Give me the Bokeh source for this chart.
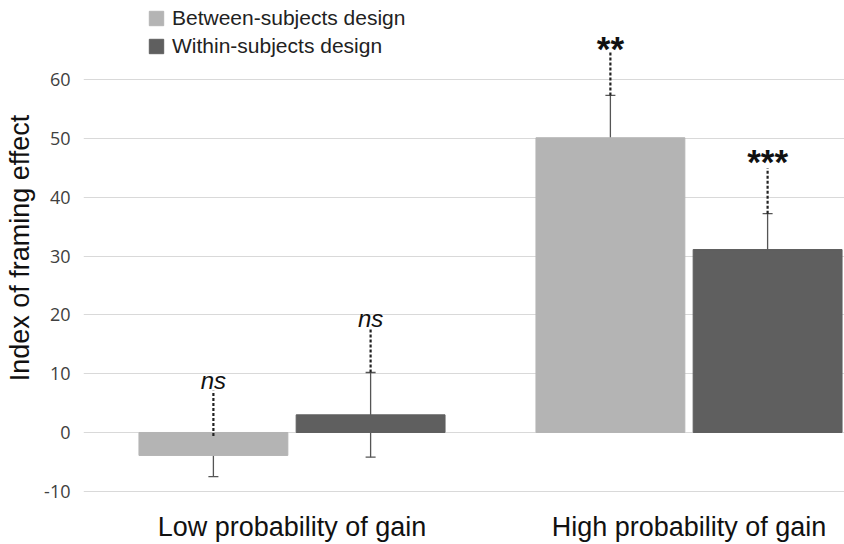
from bokeh.plotting import figure
from bokeh.models import (ColumnDataSource, FixedTicker, Legend, LegendItem,
                          Whisker, TeeHead, Range1d)
from bokeh.core.properties import value
from bokeh.embed import file_html
from bokeh.resources import INLINE

# ---- data ----
categories = ["Low probability of gain", "High probability of gain"]
series = ["Between-subjects design", "Within-subjects design"]
between = [-3.9, 50.1]
within = [3.0, 31.1]
between_lower = [-7.5, 42.8]
between_upper = [-0.6, 57.3]
within_lower = [-4.2, 24.6]
within_upper = [10.2, 37.2]
between_sig_top = [7.1, 64.6]
within_sig_top = [17.7, 44.9]
between_sig = ["ns", "**"]
within_sig = ["ns", "***"]
y_ticks = [-10, 0, 10, 20, 30, 40, 50, 60]

# ---- style ----
LIGHT = "#b4b4b4"
DARK = "#5f5f5f"
OFFSET = 0.198
BAR_W = 0.375

pos = list(range(len(categories)))
xb = [p_ - OFFSET for p_ in pos]
xw = [p_ + OFFSET for p_ in pos]

p = figure(width=844, height=544, output_backend="svg", toolbar_location=None,
           x_range=Range1d(-0.5252, 1.3917), y_range=Range1d(-10.71, 73.43),
           min_border_left=83, min_border_right=0, min_border_top=0,
           min_border_bottom=49)
p.outline_line_color = None
p.background_fill_color = "white"

src_b = ColumnDataSource(dict(x=xb, top=between, lo=between_lower, hi=between_upper,
                              st=between_sig_top, sig=between_sig))
src_w = ColumnDataSource(dict(x=xw, top=within, lo=within_lower, hi=within_upper,
                              st=within_sig_top, sig=within_sig))

rb = p.vbar(x="x", top="top", bottom=0, width=BAR_W, source=src_b,
            fill_color=LIGHT, line_color=LIGHT)
rw = p.vbar(x="x", top="top", bottom=0, width=BAR_W, source=src_w,
            fill_color=DARK, line_color=DARK)

for src in (src_b, src_w):
    w = Whisker(base="x", lower="lo", upper="hi", source=src,
                line_color="#555555", line_width=1.3,
                upper_head=TeeHead(size=10, line_color="#555555", line_width=1.3),
                lower_head=TeeHead(size=10, line_color="#555555", line_width=1.3))
    p.add_layout(w)
    p.segment(x0="x", y0="hi", x1="x", y1="st", source=src,
              line_color="#222222", line_width=2.2, line_dash="3 2")

# significance labels
ns_src = ColumnDataSource(dict(x=[xb[0], xw[0]], y=[8.8, 19.4], t=[between_sig[0], within_sig[0]]))
p.text(x="x", y="y", text="t", source=ns_src, text_align="center",
       text_baseline="middle", text_font=value("Liberation Sans"),
       text_font_style="italic", text_font_size="24px", text_color="#111111")
st_src = ColumnDataSource(dict(x=[xb[1], xw[1]], y=[65.3, 46.0], t=[between_sig[1], within_sig[1]]))
p.text(x="x", y="y", text="t", source=st_src, text_align="center",
       text_baseline="middle", text_font=value("Liberation Sans"),
       text_font_style="bold", text_font_size="35px", text_color="#111111")

# axes
p.yaxis.ticker = FixedTicker(ticks=y_ticks)
p.yaxis.major_label_overrides = {t: str(t) for t in y_ticks}
p.yaxis.axis_label = "Index of framing effect"
p.yaxis.axis_label_text_font = "Liberation Sans"
p.yaxis.axis_label_text_font_style = "normal"
p.yaxis.axis_label_text_font_size = "27px"
p.yaxis.axis_label_text_color = "#111111"
p.yaxis.axis_label_standoff = 6
p.yaxis.major_label_text_font = "Open Sans"
p.yaxis.major_label_text_font_size = "18px"
p.yaxis.major_label_text_color = "#404040"
p.yaxis.major_label_standoff = 7
p.yaxis.axis_line_color = None
p.yaxis.major_tick_line_color = None
p.yaxis.minor_tick_line_color = None

p.xaxis.ticker = FixedTicker(ticks=pos)
p.xaxis.major_label_overrides = {i: c for i, c in enumerate(categories)}
p.xaxis.major_label_text_font = "Liberation Sans"
p.xaxis.major_label_text_font_size = "27px"
p.xaxis.major_label_text_color = "#111111"
p.xaxis.major_label_standoff = 10
p.xaxis.axis_line_color = None
p.xaxis.major_tick_line_color = None
p.xaxis.minor_tick_line_color = None

p.xgrid.grid_line_color = None
p.ygrid.grid_line_color = "#d9d9d9"
p.ygrid.grid_line_width = 1

legend = Legend(items=[LegendItem(label=series[0], renderers=[rb]),
                       LegendItem(label=series[1], renderers=[rw])],
                location=(64, 437), padding=0, margin=0, spacing=4,
                glyph_width=18, glyph_height=18, label_height=22,
                label_standoff=7, label_text_font="Liberation Sans",
                label_text_font_size="21px", label_text_color="#222222",
                border_line_color=None, background_fill_alpha=0)
p.add_layout(legend)

open("out.html", "w").write(file_html(p, INLINE))
